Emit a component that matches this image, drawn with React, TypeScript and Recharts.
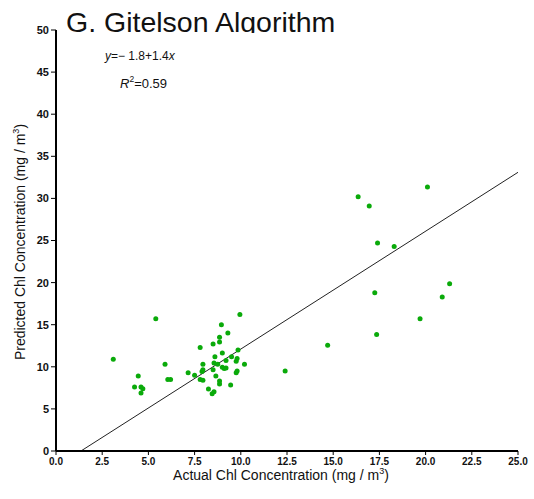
import {
    ScatterChart,
    Scatter,
    XAxis,
    YAxis,
    ReferenceLine,
    Label,
} from "recharts";

// measured actual vs predicted chl (mg/m3)
const ACTUAL = [
    3.1, 5.4, 4.45, 4.25, 4.6, 4.7, 4.6, 5.9, 6.05, 6.2, 7.15, 7.5, 7.8, 7.8,
    7.95, 7.95, 7.9, 7.95, 8.25, 8.5, 8.45, 8.55, 8.6, 8.55, 8.5, 8.65, 8.75,
    8.95, 8.85, 8.85, 9.0, 8.85, 8.85, 9.0, 9.1, 9.2, 9.2, 9.3, 9.45, 9.5, 9.75,
    9.8, 9.85, 9.95, 9.75, 9.8, 10.2, 12.4, 14.7, 16.35, 16.95, 20.1, 17.4, 18.3,
    17.25, 21.3, 20.9, 19.7, 17.35,
];
const PREDICTED = [
    10.9, 15.7, 8.9, 7.6, 7.6, 7.4, 6.9, 10.3, 8.5, 8.5, 9.3, 9.0, 12.3, 8.5,
    8.4, 10.3, 9.45, 9.65, 7.35, 12.7, 6.8, 7.05, 11.2, 10.45, 9.65, 8.9, 10.3,
    15.0, 13.5, 12.95, 11.65, 8.3, 7.95, 9.95, 9.8, 9.85, 10.75, 14.0, 7.85,
    11.2, 10.65, 11.0, 12.0, 16.2, 9.3, 9.5, 10.3, 9.5, 12.55, 30.2, 29.1, 31.35,
    24.7, 24.3, 18.8, 19.85, 18.3, 15.7, 13.85,
];
// fitted line end points as drawn
const FIT_X = [1.35, 25];
const FIT_Y = [0, 33.1];

const X_TICKS = [0, 2.5, 5, 7.5, 10, 12.5, 15, 17.5, 20, 22.5, 25];
const Y_TICKS = [0, 5, 10, 15, 20, 25, 30, 35, 40, 45, 50];

const FONT = "'Liberation Sans', Arial, sans-serif";

const points = ACTUAL.map((x, i) => ({ x, y: PREDICTED[i] }));

export default function App() {
    return (
        <div style={{ position: "absolute", left: 0, top: 0, width: 534, height: 499, background: "#fff", fontFamily: FONT }}>
            <ScatterChart
                width={534}
                height={499}
                margin={{ top: 30, right: 16, bottom: 18, left: 0 }}
            >
                <XAxis
                    type="number"
                    dataKey="x"
                    domain={[0, 25]}
                    ticks={X_TICKS}
                    tickFormatter={(v: number) => v.toFixed(1)}
                    height={30}
                    axisLine={{ stroke: "#000", strokeWidth: 2 }}
                    tickLine={{ stroke: "#000" }}
                    tickSize={4}
                    tickMargin={3}
                    tick={{ fill: "#111", fontSize: 10, fontWeight: "bold", fontFamily: FONT }}
                >
                    <Label
                        content={() => (
                            <text x={281} y={480} textAnchor="middle" fontSize={14} fill="#111" fontFamily={FONT}>
                                Actual Chl Concentration (mg / m
                                <tspan dy={-6} fontSize={9}>3</tspan>
                                <tspan dy={6}>)</tspan>
                            </text>
                        )}
                    />
                </XAxis>
                <YAxis
                    type="number"
                    dataKey="y"
                    domain={[0, 50]}
                    ticks={Y_TICKS}
                    width={56}
                    axisLine={{ stroke: "#000", strokeWidth: 2 }}
                    tickLine={{ stroke: "#000" }}
                    tickSize={5}
                    tickMargin={2}
                    tick={{ fill: "#111", fontSize: 11, fontWeight: "bold", fontFamily: FONT }}
                >
                    <Label
                        content={() => (
                            <text
                                x={25}
                                y={242}
                                transform="rotate(-90 25 242)"
                                textAnchor="middle"
                                fontSize={14}
                                fill="#111"
                                fontFamily={FONT}
                            >
                                Predicted Chl Concentration (mg / m
                                <tspan dy={-6} fontSize={9}>3</tspan>
                                <tspan dy={6}>)</tspan>
                            </text>
                        )}
                    />
                </YAxis>
                <ReferenceLine
                    segment={[
                        { x: FIT_X[0], y: FIT_Y[0] },
                        { x: FIT_X[1], y: FIT_Y[1] },
                    ]}
                    stroke="#222"
                    strokeWidth={1}
                    ifOverflow="visible"
                />
                <Scatter
                    data={points}
                    fill="#0aaa0a"
                    isAnimationActive={false}
                    shape={(p: any) => <circle cx={p.cx} cy={p.cy} r={2.5} fill="#0aaa0a" />}
                />
            </ScatterChart>

            {/* title + regression annotation */}
            <svg width={534} height={100} style={{ position: "absolute", left: 0, top: 0, pointerEvents: "none" }}>
                <defs>
                    <clipPath id="titleClip">
                        <rect x={0} y={0} width={534} height={33} />
                    </clipPath>
                </defs>
                <text x={66} y={32} fontSize={28.5} fill="#111" fontFamily={FONT} clipPath="url(#titleClip)">
                    G. Gitelson Algorithm
                </text>
                <text x={105} y={60} fontSize={12} fill="#111" fontFamily={FONT}>
                    <tspan fontStyle="italic">y</tspan>=− 1.8+1.4<tspan fontStyle="italic">x</tspan>
                </text>
                <text x={120} y={88} fontSize={13} fill="#111" fontFamily={FONT}>
                    <tspan fontStyle="italic">R</tspan>
                    <tspan dy={-6} fontSize={8.5}>2</tspan>
                    <tspan dy={6}>=0.59</tspan>
                </text>
            </svg>
        </div>
    );
}
